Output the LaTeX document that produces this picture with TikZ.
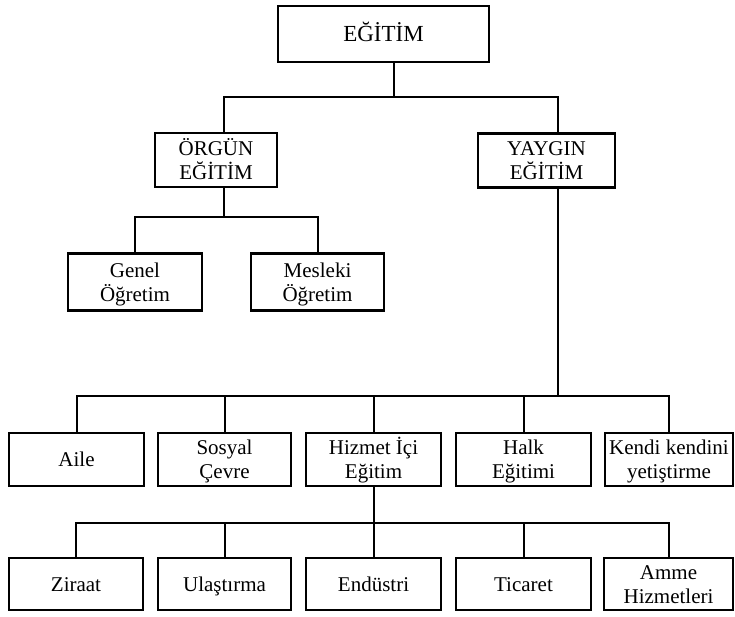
\documentclass[tikz,border=0pt]{standalone}
\usepackage{fontspec}
\setmainfont{Liberation Serif}
% invisible rule that gives every text line the same height and depth
\newcommand\linestrut{\vrule width 0pt height 19pt depth 5pt}
\begin{document}
\begin{tikzpicture}[x=1pt,y=-1pt,
  box/.style={draw, line width=2.3pt, inner sep=0pt, align=center,
    font=\fontsize{21}{24}\selectfont, minimum height=54pt},
  link/.style={line width=2pt}]
\useasboundingbox (0,0) rectangle (735,616);

% levels of the horizontal buses
\coordinate (busA) at (0,97);
\coordinate (busB) at (0,217);
\coordinate (busC) at (0,396);
\coordinate (busD) at (0,523);

% top
\node[box, minimum width=211pt, minimum height=56pt, font=\fontsize{23}{24}\selectfont]
  (egitim) at (383.5,34) {EĞİTİM\linestrut};

% second level
\node[box, minimum width=122pt] (orgun)  at (216,160)   {ÖRGÜN\linestrut\\EĞİTİM\linestrut};
\node[box, minimum width=137pt] (yaygin) at (546.5,160.5) {YAYGIN\linestrut\\EĞİTİM\linestrut};

% formal education branches
\node[box, minimum width=134pt, minimum height=57pt] (genel)   at (135,282)   {Genel\linestrut\\Öğretim\linestrut};
\node[box, minimum width=133pt, minimum height=57pt] (mesleki) at (317.5,282) {Mesleki\linestrut\\Öğretim\linestrut};

% non-formal education branches
\node[box, minimum width=135pt, minimum height=53pt] (aile)   at (76.5,459.5)  {Aile\linestrut};
\node[box, minimum width=133pt, minimum height=53pt] (sosyal) at (224.5,459.5) {Sosyal\linestrut\\Çevre\linestrut};
\node[box, minimum width=135pt, minimum height=53pt] (hizmet) at (373.5,459.5) {Hizmet İçi\linestrut\\Eğitim\linestrut};
\node[box, minimum width=135pt, minimum height=53pt] (halk)   at (523.5,459.5) {Halk\linestrut\\Eğitimi\linestrut};
\node[box, minimum width=128pt, minimum height=53pt] (kendi)  at (669,459.5)   {Kendi kendini\linestrut\\yetiştirme\linestrut};

% in-service training sectors
\node[box, minimum width=134pt, minimum height=52pt] (ziraat)    at (76,584)    {Ziraat\linestrut};
\node[box, minimum width=133pt, minimum height=52pt] (ulastirma) at (224.5,584) {Ulaştırma\linestrut};
\node[box, minimum width=135pt, minimum height=52pt] (endustri)  at (373.5,584) {Endüstri\linestrut};
\node[box, minimum width=135pt, minimum height=52pt] (ticaret)   at (523.5,584) {Ticaret\linestrut};
\node[box, minimum width=129pt, minimum height=52pt] (amme)      at (668.5,584) {Amme\linestrut\\Hizmetleri\linestrut};

% stems that sit off the box centres
\coordinate (es) at ([xshift=10.5pt]egitim.south);
\coordinate (on) at ([xshift=8pt]orgun.north);
\coordinate (os) at ([xshift=8pt]orgun.south);
\coordinate (yn) at ([xshift=11.5pt]yaygin.north);
\coordinate (ys) at ([xshift=11.5pt]yaygin.south);

% connectors
\draw[link] (es) -- (es |- busA);
\draw[link] (on) -- (on |- busA) -| (yn);

\draw[link] (os) -- (os |- busB);
\draw[link] (genel.north) -- (genel.north |- busB) -| (mesleki.north);

\draw[link] (ys) -- (ys |- busC);
\draw[link] (aile.north) -- (aile.north |- busC) -| (kendi.north);
\draw[link] (sosyal.north) -- (sosyal.north |- busC);
\draw[link] (hizmet.north) -- (hizmet.north |- busC);
\draw[link] (halk.north) -- (halk.north |- busC);

\draw[link] (hizmet.south) -- (endustri.north);
\draw[link] (ziraat.north) -- (ziraat.north |- busD) -| (amme.north);
\draw[link] (ulastirma.north) -- (ulastirma.north |- busD);
\draw[link] (ticaret.north) -- (ticaret.north |- busD);
\end{tikzpicture}
\end{document}
